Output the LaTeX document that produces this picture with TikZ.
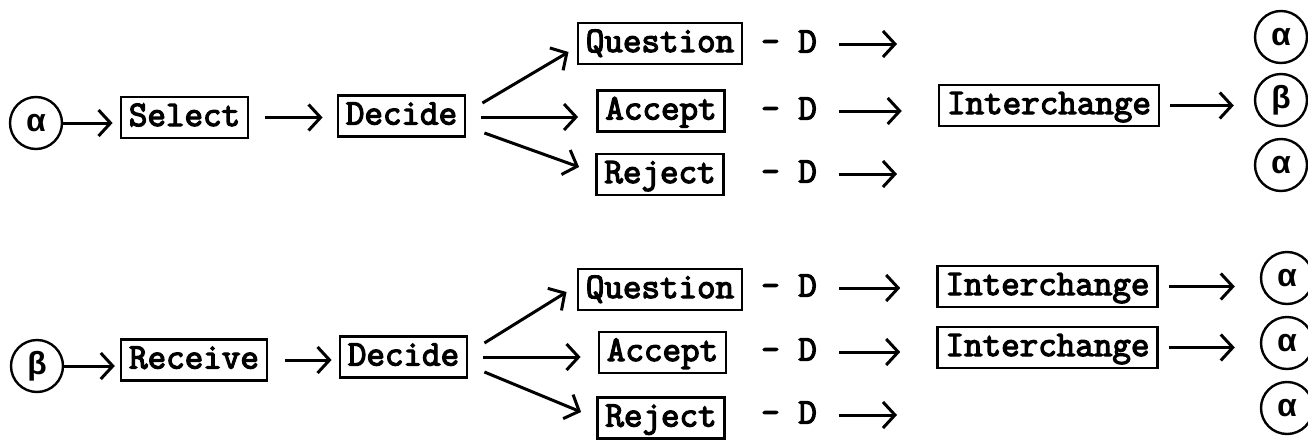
\documentclass[tikz,border=0pt]{standalone}
\usepackage{fontspec}
\newfontfamily\typewriter{Latin Modern Mono}[FakeBold=3.5]
\newfontfamily\greekmono{Liberation Mono}
\usetikzlibrary{arrows.meta,calc}
\begin{document}
\begin{tikzpicture}[x=1pt,y=-1pt,
  every node/.style={font=\fontsize{36}{40}\selectfont\typewriter},
  box/.style={draw,line width=2.6pt,inner xsep=8pt,inner ysep=5pt,text height=24pt,text depth=7pt},
  state/.style={draw,circle,line width=2.4pt,minimum size=52pt,inner sep=0pt,
                font=\fontsize{32}{36}\selectfont\greekmono\bfseries},
  lbl/.style={inner sep=0pt,text height=24pt,text depth=7pt},
  flow/.style={line width=3pt,-{Straight Barb[length=12pt,width=26pt]}}
]
\useasboundingbox (0,0) rectangle (1308,439);

% ---------- sending side ----------
\node[state] (sa) at (36,123) {α};
\node[box] (sel) at (184.5,117.5) {Select};
\node[box] (dec1) at (401.5,116) {Decide};
\node[box] (q1) at (660,43.5) {Question};
\node[box] (a1) at (661,111) {Accept};
\node[box] (r1) at (660,174.5) {Reject};
\node[lbl] (dq1) at (789,44) {– D};
\node[lbl] (da1) at (789,111) {– D};
\node[lbl] (dr1) at (789,174) {– D};
\node[box] (ic1) at (1049,105.5) {Interchange};
\node[state] (o1) at (1281,37) {α};
\node[state] (o2) at (1281,100) {β};
\node[state] (o3) at (1281,165) {α};
\coordinate (eq1) at (897,44);
\coordinate (er1) at (897,174);

\draw[flow,shorten >=7pt] (sa.east) -- (sa.east -| sel.west);
\draw[flow,shorten <=16pt,shorten >=14pt] (sel.east) -- (sel.east -| dec1.west);
\draw[flow] ($(dec1.east)+(16,-13)$) -- ($(q1.west)+(-8,8.5)$);
\draw[flow] ($(dec1.east)+(15,1)$) -- ($(a1.west)+(-18,6)$);
\draw[flow] ($(dec1.east)+(18,17)$) -- ($(r1.west)+(-16,-7.5)$);
\draw[flow,shorten <=22pt] (dq1.east) -- (eq1);
\draw[flow,shorten <=22pt,shorten >=36pt] (da1.east) -- (da1.east -| ic1.west);
\draw[flow,shorten <=22pt] (dr1.east) -- (er1);
\draw[flow,shorten <=10pt,shorten >=20pt] (ic1.east) -- (ic1.east -| o2.west);

% ---------- receiving side ----------
\node[state] (sb) at (37,366) {β};
\node[box] (rec) at (194,360) {Receive};
\node[box] (dec2) at (403.5,357) {Decide};
\node[box] (q2) at (660,289.5) {Question};
\node[box] (a2) at (662.5,352.5) {Accept};
\node[box] (r2) at (661,418) {Reject};
\node[lbl] (dq2) at (789,288) {– D};
\node[lbl] (da2) at (789,352) {– D};
\node[lbl] (dr2) at (789,415) {– D};
\node[box] (ic2) at (1047.5,286.5) {Interchange};
\node[box] (ic3) at (1047.5,347.5) {Interchange};
\node[state] (p1) at (1287,278) {α};
\node[state] (p2) at (1287,343) {α};
\node[state] (p3) at (1287,408) {α};
\coordinate (er2) at (897,415);

\draw[flow,shorten >=5pt] (sb.east) -- (sb.east -| rec.west);
\draw[flow,shorten <=17pt,shorten >=7pt] (rec.east) -- (rec.east -| dec2.west);
\draw[flow] ($(dec2.east)+(16,-14)$) -- ($(q2.west)+(-10,2.5)$);
\draw[flow] ($(dec2.east)+(15,0)$) -- ($(a2.west)+(-17,4.5)$);
\draw[flow] ($(dec2.east)+(16,15)$) -- ($(r2.west)+(-15,-6)$);
\draw[flow,shorten <=22pt,shorten >=36pt] (dq2.east) -- (dq2.east -| ic2.west);
\draw[flow,shorten <=22pt,shorten >=36pt] (da2.east) -- (da2.east -| ic3.west);
\draw[flow,shorten <=22pt] (dr2.east) -- (er2);
\draw[flow,shorten <=10pt,shorten >=25pt] (ic2.east) -- (ic2.east -| p1.west);
\draw[flow,shorten <=10pt,shorten >=25pt] (ic3.east) -- (ic3.east -| p2.west);
\end{tikzpicture}
\end{document}
